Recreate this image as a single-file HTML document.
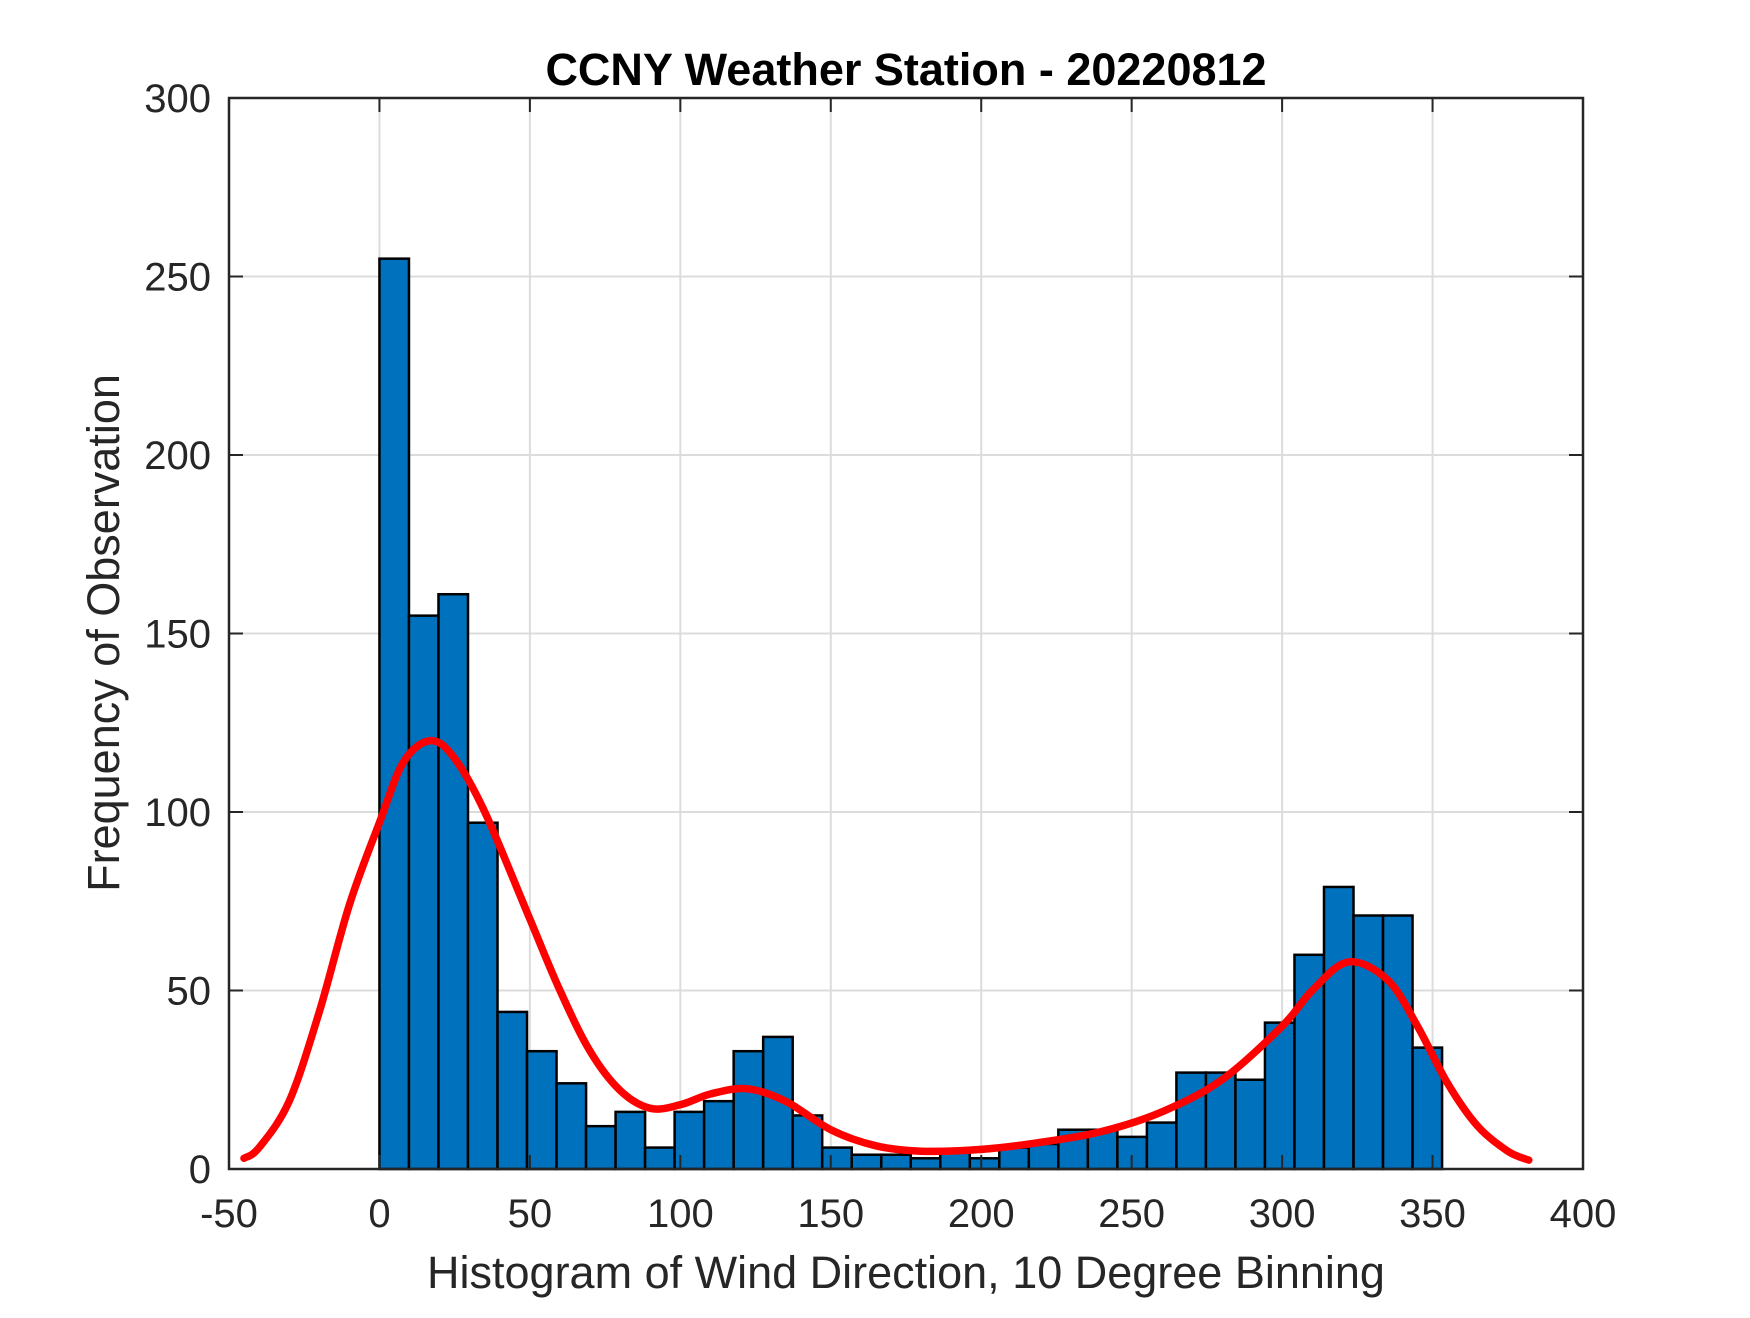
<!DOCTYPE html>
<html><head><meta charset="utf-8"><style>
html,body{margin:0;padding:0;background:#fff}
svg text{font-family:"Liberation Sans",Arial,sans-serif;fill:#262626}
</style></head><body>
<svg id="chart" width="1750" height="1313" viewBox="0 0 1750 1313" xmlns="http://www.w3.org/2000/svg">
<rect width="1750" height="1313" fill="#fff"/>
<g id="grid"></g><g id="bars"></g><g id="curve"></g><g id="axes"></g>
<text x="906" y="85" text-anchor="middle" font-size="45" font-weight="bold" style="fill:#000">CCNY Weather Station - 20220812</text>
<text x="906" y="1288" text-anchor="middle" font-size="45">Histogram of Wind Direction, 10 Degree Binning</text>
<text transform="translate(119,633) rotate(-90)" text-anchor="middle" font-size="45">Frequency of Observation</text>
</svg>
<script>
const counts=[255,155,161,97,44,33,24,12,16,6,16,19,33,37,15,6,4,4,3,5,3,6,7,11,11,9,13,27,27,25,41,60,79,71,71,34];
const binWidth=9.81;
const xTicks=[-50,0,50,100,150,200,250,300,350,400];
const yTicks=[0,50,100,150,200,250,300];
const curveX=[-45,-40,-30,-20,-10,0,8,17,25,35,50,60,70,80,90,100,110,122,135,150,165,180,200,220,240,260,280,300,310,322,335,345,355,365,375,382];
const curveY=[3,6,19,44,74,97,114,120,115,100,70,50,33,22,17,18,21,22.5,19,11,6.5,5,5.5,7.5,10.5,16,25,40,50,58,53,40,24,12,5,2.5];
const L=229,R=1583,T=98,B=1169;
const sx=v=>L+(v+50)*(R-L)/450, sy=v=>B-v*(B-T)/300;
const NS="http://www.w3.org/2000/svg";
function mk(tag,attrs,parent){const e=document.createElementNS(NS,tag);for(const k in attrs)e.setAttribute(k,attrs[k]);parent.appendChild(e);return e;}
const grid=document.getElementById('grid'),bars=document.getElementById('bars'),curve=document.getElementById('curve'),axes=document.getElementById('axes');
xTicks.forEach(t=>{const x=sx(t);
 const g=mk('line',{x1:x,x2:x,y1:T,y2:B,stroke:'#dcdcdc','stroke-width':2},grid);
 
 
 const tk=mk('line',{x1:x,x2:x,y1:B,y2:B-14,stroke:'#262626','stroke-width':2},axes);
 
 
 const tk2=mk('line',{x1:x,x2:x,y1:T,y2:T+14,stroke:'#262626','stroke-width':2},axes);
 
 
 const lb=mk('text',{x:x,y:B+58,'text-anchor':'middle','font-size':40},axes);lb.textContent=t;
 
 
});
yTicks.forEach(t=>{const y=sy(t);
 const g=mk('line',{x1:L,x2:R,y1:y,y2:y,stroke:'#dcdcdc','stroke-width':2},grid);
 
 
 const tk=mk('line',{x1:L,x2:L+14,y1:y,y2:y,stroke:'#262626','stroke-width':2},axes);
 
 
 const tk2=mk('line',{x1:R,x2:R-14,y1:y,y2:y,stroke:'#262626','stroke-width':2},axes);
 
 
 const lb=mk('text',{x:L-18,y:y+14,'text-anchor':'end','font-size':40},axes);lb.textContent=t;
 
 
});
counts.forEach((c,i)=>{const x0=sx(i*binWidth),x1=sx((i+1)*binWidth);
 const r=mk('rect',{x:x0,y:sy(c),width:x1-x0,height:B-sy(c),fill:'#0072bd',stroke:'#000','stroke-width':2.5},bars);
 
 
});
const pts=curveX.map((v,i)=>[sx(v),sy(curveY[i])]);
let d='M'+pts[0][0].toFixed(1)+','+pts[0][1].toFixed(1);
for(let i=0;i<pts.length-1;i++){
 const p0=pts[Math.max(0,i-1)],p1=pts[i],p2=pts[i+1],p3=pts[Math.min(pts.length-1,i+2)];
 const c1=[p1[0]+(p2[0]-p0[0])/6,p1[1]+(p2[1]-p0[1])/6];
 const c2=[p2[0]-(p3[0]-p1[0])/6,p2[1]-(p3[1]-p1[1])/6];
 d+='C'+c1[0].toFixed(1)+','+c1[1].toFixed(1)+' '+c2[0].toFixed(1)+','+c2[1].toFixed(1)+' '+p2[0].toFixed(1)+','+p2[1].toFixed(1);
}
const p=mk('path',{d:d,fill:'none',stroke:'#ff0000','stroke-width':7.5,'stroke-linejoin':'round','stroke-linecap':'round'},curve);


const box=mk('rect',{x:L,y:T,width:R-L,height:B-T,fill:'none',stroke:'#262626','stroke-width':2.5},axes);


</script>
</body></html>
